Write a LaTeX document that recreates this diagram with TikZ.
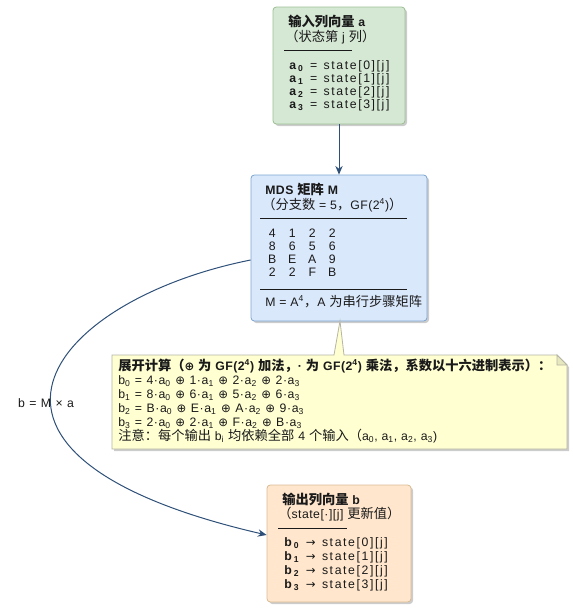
\documentclass[tikz,border=0pt]{standalone}
\usepackage{fontspec}
\setmainfont{Liberation Sans}[LetterSpace=4]
\newfontfamily\widef{Liberation Sans}[LetterSpace=13,WordSpace=1.3]
\newfontfamily\widen{Liberation Sans}[LetterSpace=5,WordSpace=1.1]
\newfontfamily\cjk{Noto Sans CJK SC}[Scale=1.08]
\newfontfamily\symf{DejaVu Sans}[Scale=0.95]
\newcommand\zh[1]{{\cjk #1}}
\newcommand\myxo{{\symf ⊕}}
\newcommand\myra{{\symf →}}
\newcommand\mysub[1]{\textsubscript{#1}}
\newcommand\mysup[1]{\textsuperscript{#1}}
\newcommand\mc[1]{\makebox[15pt][c]{#1}}
\usetikzlibrary{arrows.meta,shadows}
\definecolor{greenf}{HTML}{D5E8D4}
\definecolor{greend}{HTML}{9DBF93}
\definecolor{bluef}{HTML}{DAE8FC}
\definecolor{blued}{HTML}{7EA6D0}
\definecolor{orangef}{HTML}{FFE6CC}
\definecolor{oranged}{HTML}{D9BB94}
\definecolor{notef}{HTML}{FFFFD2}
\definecolor{noted}{HTML}{B5B5A5}
\definecolor{arrowc}{HTML}{2D4F78}
\definecolor{txtc}{HTML}{1A1A1A}
\begin{document}
\begin{tikzpicture}[x=0.75pt,y=-0.75pt,
  txt/.style={anchor=west,inner sep=0pt,text height=7pt,text depth=2pt,font=\fontsize{9.2}{11}\selectfont,text=txtc},
  ttl/.style={txt,font=\fontsize{9.2}{11}\selectfont\bfseries},
  wtxt/.style={txt,font=\fontsize{9.2}{11}\selectfont\widef},
  ntxt/.style={txt,font=\fontsize{9.2}{11}\selectfont\widen},
  box/.style={rectangle,rounded corners=2.5pt,line width=0.6pt,inner sep=0pt,
    drop shadow={shadow xshift=1.5pt,shadow yshift=-1.5pt,fill=black,opacity=0.2}},
  conn/.style={draw=arrowc,line width=0.75pt,-{Stealth[length=6.5pt,width=5.5pt]}},
  rulec/.style={draw=txtc,line width=0.7pt},
  notest/.style={fill=notef,draw=noted,line width=0.6pt,line join=miter}
]
\useasboundingbox (0,0) rectangle (573,608);

% boxes
\node[box,fill=greenf,draw=greend,minimum width=99pt,minimum height=87.75pt] (A) at (339,65.5) {};
\node[box,fill=bluef,draw=blued,minimum width=132pt,minimum height=109.5pt] (M) at (339,248) {};
\node[box,fill=orangef,draw=oranged,minimum width=108pt,minimum height=87.75pt] (B) at (339,543.5) {};

% note with callout
\fill[black,opacity=0.2] (114,357) -- (559,357) -- (569,367) -- (569,451) -- (114,451) -- cycle;
\draw[notest] (112,355) -- (334,355) -- (340,321) -- (344,355) -- (557,355) -- (567,365) -- (567,449) -- (112,449) -- cycle;
\draw[notest,fill=notef!85!black!60!notef] (557,355) -- (557,365) -- (567,365) -- cycle;

% box A text
\node[ttl] (a0) at (288,23) {\zh{输入列向量} a};
\node[txt] (a1) at (285,38) {\zh{（状态第} j \zh{列）}};
\draw[rulec] (284,50) -- (352,50);
\node[wtxt] (a2) at (289,66) {\textbf{a\,\mysub{0}} = state[0][j]};
\node[wtxt] (a3) at (289,79) {\textbf{a\,\mysub{1}} = state[1][j]};
\node[wtxt] (a4) at (289,92) {\textbf{a\,\mysub{2}} = state[2][j]};
\node[wtxt] (a5) at (289,105) {\textbf{a\,\mysub{3}} = state[3][j]};

% box M text
\node[ttl] (m0) at (265,191) {MDS \zh{矩阵} M};
\node[txt] (m1) at (262,206) {\zh{（分支数} = 5\zh{，}GF(2\mysup{4})\zh{）}};
\draw[rulec] (260,218) -- (407,218);
\node[txt] (m2) at (262,234) {\mc{4}\mc{1}\mc{2}\mc{2}};
\node[txt] (m3) at (262,247) {\mc{8}\mc{6}\mc{5}\mc{6}};
\node[txt] (m4) at (262,260) {\mc{B}\mc{E}\mc{A}\mc{9}};
\node[txt] (m5) at (262,273) {\mc{2}\mc{2}\mc{F}\mc{B}};
\draw[rulec] (260,289) -- (407,289);
\node[txt] (m6) at (265,303) {M = A\mysup{4}\zh{，}A \zh{为串行步骤矩阵}};

% note text
\node[ttl] (n0) at (118,367) {\zh{展开计算（}\myxo{} \zh{为} GF(2\mysup{4}) \zh{加法，}· \zh{为} GF(2\mysup{4}) \zh{乘法，系数以十六进制表示）：}};
\node[ntxt] (n1) at (118,381) {b\mysub{0} = 4·a\mysub{0} \myxo{} 1·a\mysub{1} \myxo{} 2·a\mysub{2} \myxo{} 2·a\mysub{3}};
\node[ntxt] (n2) at (118,395) {b\mysub{1} = 8·a\mysub{0} \myxo{} 6·a\mysub{1} \myxo{} 5·a\mysub{2} \myxo{} 6·a\mysub{3}};
\node[ntxt] (n3) at (118,409) {b\mysub{2} = B·a\mysub{0} \myxo{} E·a\mysub{1} \myxo{} A·a\mysub{2} \myxo{} 9·a\mysub{3}};
\node[ntxt] (n4) at (118,423) {b\mysub{3} = 2·a\mysub{0} \myxo{} 2·a\mysub{1} \myxo{} F·a\mysub{2} \myxo{} B·a\mysub{3}};
\node[txt] (n5) at (118,437) {\zh{注意：每个输出} b\mysub{i} \zh{均依赖全部} 4 \zh{个输入（}a\mysub{0}, a\mysub{1}, a\mysub{2}, a\mysub{3})};

% box B text
\node[ttl] (b0) at (282,501) {\zh{输出列向量} b};
\node[txt] (b1) at (278,515) {\zh{（}state[·][j] \zh{更新值）}};
\draw[rulec] (278,528) -- (347,528);
\node[wtxt] (b2) at (284,543) {\textbf{b\,\mysub{0}} \myra{} state[0][j]};
\node[wtxt] (b3) at (284,557) {\textbf{b\,\mysub{1}} \myra{} state[1][j]};
\node[wtxt] (b4) at (284,571) {\textbf{b\,\mysub{2}} \myra{} state[2][j]};
\node[wtxt] (b5) at (284,585) {\textbf{b\,\mysub{3}} \myra{} state[3][j]};

% connectors
\draw[conn] (A.south) -- (M.north);
\draw[conn] ([yshift=-9pt]M.west) .. controls (50,300) and (-80,455) .. ([yshift=6.4pt]B.west);
\node[ntxt,anchor=center] (lbl) at (46,404) {b = M × a};
\end{tikzpicture}
\end{document}
